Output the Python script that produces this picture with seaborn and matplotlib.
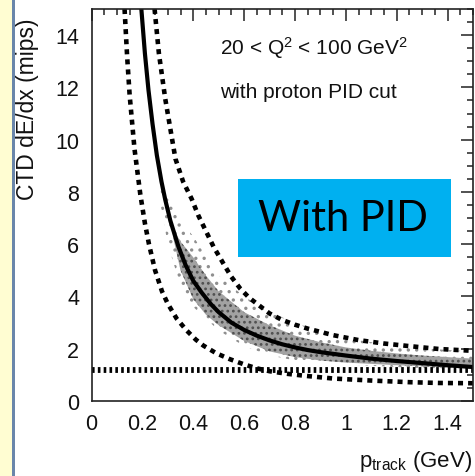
import numpy as np
import matplotlib
matplotlib.use('Agg')
import matplotlib.pyplot as plt
import seaborn as sns
from matplotlib.patches import Rectangle
from matplotlib.ticker import MultipleLocator, FixedLocator, FixedFormatter

# central (solid) curve
p_center = [0.196, 0.21, 0.224, 0.24, 0.257, 0.275, 0.29, 0.31, 0.342, 0.37, 0.40, 0.433, 0.47, 0.50, 0.55,
            0.60, 0.65, 0.70, 0.75, 0.80, 0.85, 0.90, 1.0, 1.1, 1.2, 1.3, 1.4, 1.5]
y_center = [15.0, 13.3, 11.9, 10.6, 9.4, 8.4, 7.7, 6.9, 5.9, 5.2, 4.6, 4.15, 3.7, 3.4, 3.0,
            2.72, 2.5, 2.32, 2.17, 2.05, 1.95, 1.87, 1.74, 1.62, 1.53, 1.45, 1.37, 1.3]

# upper dashed band
p_upper = [0.248, 0.265, 0.29, 0.33, 0.36, 0.394, 0.42, 0.48, 0.524, 0.55, 0.585, 0.62, 0.70, 0.75, 0.80,
           0.85, 0.95, 1.05, 1.15, 1.25, 1.366, 1.5]
y_upper = [15.0, 13.3, 11.56, 9.27, 8.4, 7.73, 7.1, 5.9, 5.17, 4.75, 4.3, 3.95, 3.35, 3.1, 2.92,
           2.77, 2.52, 2.33, 2.2, 2.1, 1.99, 1.92]

# lower dashed band
p_lower = [0.130, 0.140, 0.150, 0.169, 0.192, 0.21, 0.226, 0.25, 0.277, 0.30, 0.335, 0.374, 0.41, 0.44,
           0.49, 0.544, 0.60, 0.65, 0.70, 0.77, 0.844, 0.95, 1.105, 1.25, 1.366, 1.5]
y_lower = [15.0, 13.2, 11.7, 9.65, 7.9, 6.8, 6.0, 5.0, 4.2, 3.72, 3.15, 2.7, 2.35, 2.12,
           1.83, 1.6, 1.4, 1.25, 1.14, 1.04, 0.96, 0.86, 0.78, 0.72, 0.69, 0.68]

# horizontal cut line
y_cut = 1.2
p_cut = [0.0, 1.5]

# data cloud envelopes (outer sparse, dense core)
cloud_p = [0.27, 0.30, 0.35, 0.40, 0.50, 0.60, 0.70, 0.80, 0.90, 1.0, 1.2, 1.4, 1.5]
cloud_hi = [8.2, 7.9, 6.9, 6.3, 4.8, 4.0, 3.4, 3.0, 2.65, 2.4, 2.1, 1.95, 1.9]
cloud_lo = [7.6, 6.0, 4.4, 3.6, 2.7, 2.1, 1.75, 1.55, 1.45, 1.4, 1.3, 1.22, 1.18]
core_p = [0.32, 0.35, 0.40, 0.45, 0.50, 0.60, 0.70, 0.80, 0.90, 1.0, 1.1, 1.2, 1.3, 1.4, 1.5]
core_hi = [6.6, 6.1, 5.5, 4.8, 4.2, 3.4, 2.9, 2.5, 2.25, 2.05, 1.92, 1.82, 1.74, 1.68, 1.62]
core_lo = [6.3, 5.0, 3.9, 3.3, 2.9, 2.3, 1.9, 1.68, 1.55, 1.47, 1.42, 1.37, 1.33, 1.28, 1.24]

x_ticks = [0, 0.2, 0.4, 0.6, 0.8, 1.0, 1.2, 1.4]
x_labels = ['0', '0.2', '0.4', '0.6', '0.8', '1', '1.2', '1.4']
y_ticks = [0, 2, 4, 6, 8, 10, 12, 14]

sns.set_theme(style='white')
plt.rcParams['font.family'] = ['Liberation Sans', 'DejaVu Sans']
plt.rcParams['mathtext.fontset'] = 'custom'
plt.rcParams['mathtext.rm'] = 'Liberation Sans'
plt.rcParams['mathtext.it'] = 'Liberation Sans'
plt.rcParams['hatch.linewidth'] = 1.2

fig = plt.figure(figsize=(4.75, 4.77), dpi=100)
fig.patch.set_facecolor('white')
# page edge on the left
fig.add_artist(Rectangle((0, 0), 12 / 475, 1, transform=fig.transFigure, facecolor='#FFFDD2', edgecolor='none'))
fig.add_artist(Rectangle((12 / 475, 0), 2.5 / 475, 1, transform=fig.transFigure, facecolor='#6A86AA', edgecolor='none'))

ax = fig.add_axes([91.5 / 475, 1 - 402 / 477, (473 - 91.5) / 475, (402 - 10) / 477])

# data cloud: sparse outer dots, dense speckled core
ax.fill_between(cloud_p, cloud_lo, cloud_hi, facecolor='none', edgecolor='#8f8f8f', hatch='..', linewidth=0)
ax.fill_between(core_p, core_lo, core_hi, facecolor='#a2a2a2', edgecolor='#4f4f4f', hatch='...', linewidth=0)

sns.lineplot(x=p_cut, y=[y_cut, y_cut], ax=ax, color='black', lw=4.2, linestyle=(0, (0.45, 0.55)))
sns.lineplot(x=p_center, y=y_center, ax=ax, color='black', lw=3.0)
sns.lineplot(x=p_upper, y=y_upper, ax=ax, color='black', lw=3.3, linestyle=(0, (1.1, 1.1)))
sns.lineplot(x=p_lower, y=y_lower, ax=ax, color='black', lw=3.3, linestyle=(0, (1.1, 1.1)))

ax.set_xlim(0, 1.5)
ax.set_ylim(0, 15)
ax.xaxis.set_major_locator(FixedLocator(x_ticks))
ax.xaxis.set_major_formatter(FixedFormatter(x_labels))
ax.xaxis.set_minor_locator(MultipleLocator(0.05))
ax.yaxis.set_major_locator(FixedLocator(y_ticks))
ax.yaxis.set_minor_locator(MultipleLocator(0.5))
ax.tick_params(which='both', direction='in', top=True, right=True, color='#222222', width=1.1)
ax.tick_params(which='major', length=8.5, labelsize=15.5, pad=9, labelcolor='#111111')
ax.tick_params(which='minor', length=4.5)
for s in ax.spines.values():
    s.set_color('#222222')
    s.set_linewidth(1.2)
ax.set_xlabel('')
ax.set_ylabel('')

fig.text(28 / 475, 1 - 200 / 477, 'CTD dE/dx (mips)', rotation=90, ha='center', va='bottom', fontsize=16.5, color='#111111')
fig.text(472 / 475, 1 - 467 / 477, r'p$_{\mathrm{track}}$ (GeV)', ha='right', va='baseline', fontsize=16, color='#111111')

fig.text(220 / 475, 1 - 48 / 477, r'20 < Q$^2$ < 100 GeV$^2$', ha='left', va='center', fontsize=15, color='#111111')
fig.text(220 / 475, 1 - 93 / 477, 'with proton PID cut', ha='left', va='center', fontsize=15, color='#111111')

# label box
fig.add_artist(Rectangle((238 / 475, 1 - 258 / 477), 213 / 475, 78 / 477, transform=fig.transFigure, facecolor='#00B0F0', edgecolor='none'))
fig.text(343 / 475, 1 - 219 / 477, 'With PID', ha='center', va='center', fontsize=30, family=['Lato', 'DejaVu Sans'], color='black')

fig.savefig('out.png', dpi=100)
